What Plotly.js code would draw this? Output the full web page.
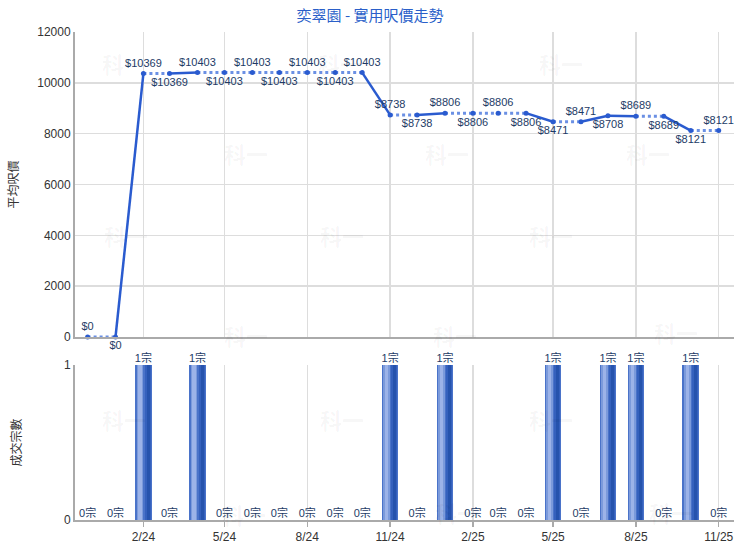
<!DOCTYPE html>
<html>
<head>
<meta charset="utf-8">
<script src="https://cdn.plot.ly/plotly-3.0.1.min.js"></script>
<style>html,body{margin:0;padding:0;background:#fff}#chart{width:740px;height:550px}</style>
</head>
<body>
<div id="chart"></div>
<script>
// ---- data ----
const months = ['2023-12-01','2024-01-01','2024-02-01','2024-03-01','2024-04-01','2024-05-01',
  '2024-06-01','2024-07-01','2024-08-01','2024-09-01','2024-10-01','2024-11-01',
  '2024-12-01','2025-01-01','2025-02-01','2025-03-01','2025-04-01','2025-05-01',
  '2025-06-01','2025-07-01','2025-08-01','2025-09-01','2025-10-01','2025-11-01'];
const avgPrice = [0,0,10369,10369,10403,10403,10403,10403,10403,10403,10403,8738,
  8738,8806,8806,8806,8806,8471,8471,8708,8689,8689,8121,8121];
const dealCount = [0,0,1,0,1,0,0,0,0,0,0,1,0,1,0,0,0,1,0,1,1,0,1,0];
const titleText = '奕翠園 - 實用呎價走勢';
const priceAxisTitle = '平均呎價';
const countAxisTitle = '成交宗數';
const watermark = '科一';

// ---- styles / positions (kept separate from data) ----
const labelPos = ['top center','bottom center','top center','bottom center','top center','bottom center',
  'top center','bottom center','top center','bottom center','top center','top center',
  'bottom center','top center','bottom center','top center','bottom center','bottom center',
  'top center','bottom center','top center','bottom center','bottom center','top center'];
const DAY = 86400000;
const cjk = '"Liberation Sans", Arial, "Noto Sans CJK TC", sans-serif';
const labelColor = '#1d3b66';

// segments: solid when a deal happened in the end month, dotted otherwise
const solidX = [], solidY = [], dotX = [], dotY = [];
for (let i = 1; i < months.length; i++) {
  const tx = dealCount[i] > 0 ? solidX : dotX;
  const ty = dealCount[i] > 0 ? solidY : dotY;
  tx.push(months[i-1], months[i], null);
  ty.push(avgPrice[i-1], avgPrice[i], null);
}

const traces = [];
traces.push({x: dotX, y: dotY, type:'scatter', mode:'lines', xaxis:'x', yaxis:'y',
  line:{color:'#6b90e4', width:3, dash:'dot'}, hoverinfo:'skip', showlegend:false});
traces.push({x: solidX, y: solidY, type:'scatter', mode:'lines', xaxis:'x', yaxis:'y',
  line:{color:'#2a5bcf', width:2.5}, hoverinfo:'skip', showlegend:false});
traces.push({x: months, y: avgPrice, type:'scatter', mode:'markers+text', xaxis:'x', yaxis:'y',
  marker:{color:'#2a5bcf', size:5}, text: avgPrice.map(v => '$' + v),
  textposition: labelPos, textfont:{family:cjk, size:11, color:labelColor},
  cliponaxis:false, showlegend:false});

// bars with a cylinder-like shading (overlaid layers of the same values)
const layers = [
  {off:-9.25, w:18.5, c:'#4a73c9'},
  {off:-7.5,  w:7.5,  c:'#7b9adb'},
  {off:-5.5,  w:3.5,  c:'#9cb3e8'},
  {off:1.5,   w:6.5,  c:'#3561bd'},
  {off:3.5,   w:3.5,  c:'#2653ad'}
];
layers.forEach(l => {
  traces.push({x: months, y: dealCount, type:'bar', xaxis:'x2', yaxis:'y2',
    width: months.map(() => l.w*DAY), offset: months.map(() => l.off*DAY),
    marker:{color:l.c, line:{width:0}}, hoverinfo:'skip', showlegend:false});
});
traces.push({x: months, y: dealCount, type:'scatter', mode:'text', xaxis:'x2', yaxis:'y2',
  text: dealCount.map(v => v + '宗'), textposition:'top center',
  textfont:{family:cjk, size:11, color:labelColor}, cliponaxis:false, showlegend:false});

// faint watermarks
const wm = [[100,45],[340,45],[585,45],[222,135],[447,135],[672,135],
  [102,235],[342,235],[575,235],[222,335],[455,335],[700,332],
  [100,437],[342,437],[575,437],[220,532],[457,530],[695,530]];
const annotations = wm.map(p => ({text: watermark, xref:'paper', yref:'paper',
  x:(p[0]-75)/659, y:(520-p[1])/488, showarrow:false,
  font:{family:'"Noto Sans CJK TC", sans-serif', size:22, color:'rgba(0,0,0,0.04)', weight:'bold'}}));

const xcommon = {type:'date', range:['2023-11-17','2025-11-18'], tick0:'2024-02-01', dtick:'M3',
  tickformat:'%-m/%y', gridcolor:'#dddddd', gridwidth:1.5, showline:true, linecolor:'#aaaaaa',
  linewidth:2, zeroline:false, tickfont:{family:cjk, size:12, color:'#333'}};

const layout = {
  width:740, height:550, paper_bgcolor:'#fff', plot_bgcolor:'#fff',
  margin:{l:75, r:6, t:32, b:30},
  font:{family:cjk, color:'#333'},
  title:{text:titleText, xref:'container', x:0.5, y:1-16/550, yanchor:'middle',
    font:{family:'"Noto Sans CJK TC", sans-serif', size:15, color:'#2a5fc9'}},
  barmode:'overlay', bargap:0,
  xaxis: Object.assign({}, xcommon, {anchor:'y', matches:'x2', showticklabels:false, ticks:''}),
  yaxis: {domain:[0.375,1], range:[0,12000], dtick:2000, tickformat:'d', anchor:'x', gridcolor:'#dddddd', gridwidth:1.5,
    showline:true, linecolor:'#aaaaaa', linewidth:2, zeroline:false,
    tickfont:{family:cjk, size:12, color:'#333'},
    title:{text:priceAxisTitle, standoff:16, font:{family:'"Noto Sans CJK TC", sans-serif', size:12, color:'#333'}}},
  xaxis2: Object.assign({}, xcommon, {anchor:'y2', ticks:'outside', ticklen:5, tickcolor:'#aaaaaa', tickwidth:1.5}),
  yaxis2: {domain:[0,0.3176], range:[0,1], dtick:1, anchor:'x2', gridcolor:'#dddddd', gridwidth:1.5,
    showline:true, linecolor:'#aaaaaa', linewidth:2, zeroline:false,
    tickfont:{family:cjk, size:12, color:'#333'},
    title:{text:countAxisTitle, standoff:40, font:{family:'"Noto Sans CJK TC", sans-serif', size:12, color:'#333'}}},
  annotations: annotations,
  hovermode:false
};

Plotly.newPlot('chart', traces, layout, {staticPlot:true, displayModeBar:false});
</script>
</body>
</html>
